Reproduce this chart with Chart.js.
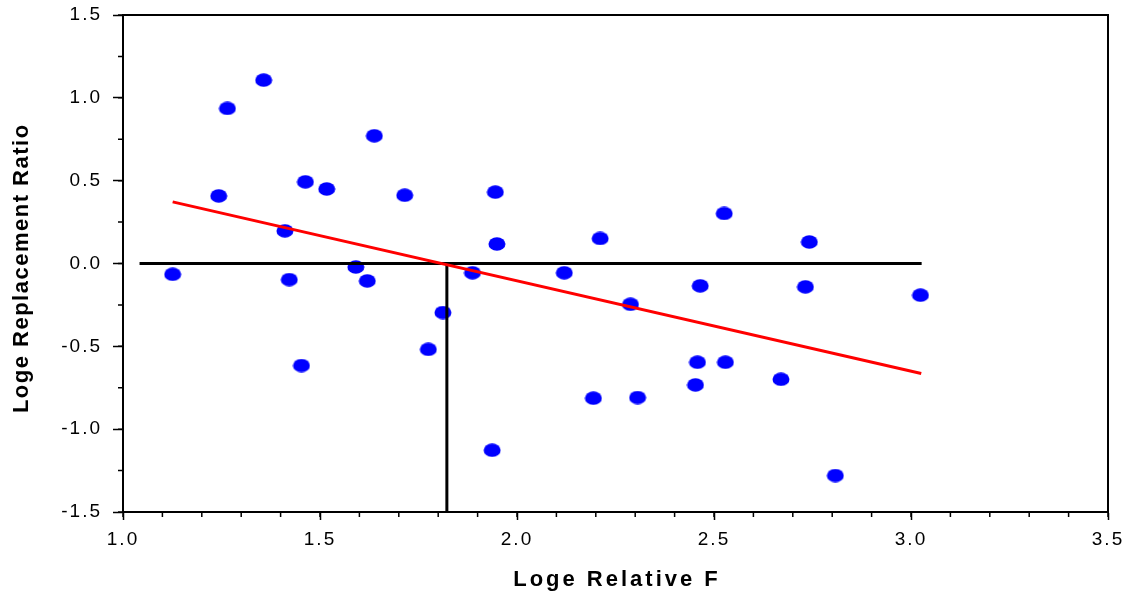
<!DOCTYPE html>
<html>
<head>
<meta charset="utf-8">
<script src="https://cdn.jsdelivr.net/npm/chart.js@4.4.1/dist/chart.umd.min.js"></script>
<style>
  html, body { margin: 0; padding: 0; background: #fff; }
  #wrap { width: 1131px; height: 599px; }
</style>
</head>
<body>
<div id="wrap"><canvas id="chart" width="1131" height="599"></canvas></div>
<script>
// observed points
const relF = [1.126, 1.243, 1.265, 1.357, 1.411, 1.422, 1.453, 1.463, 1.517, 1.591, 1.620, 1.638,
  1.715, 1.775, 1.812, 1.887, 1.937, 1.945, 1.949, 2.120, 2.194, 2.211, 2.288, 2.306,
  2.453, 2.458, 2.465, 2.526, 2.529, 2.670, 2.732, 2.742, 2.808, 3.024];
const replRatio = [-0.065, 0.408, 0.936, 1.107, 0.197, -0.097, -0.616, 0.493, 0.450, -0.021, -0.105, 0.771,
  0.412, -0.518, -0.296, -0.056, -1.127, 0.431, 0.118, -0.056, -0.813, 0.151, -0.246, -0.809,
  -0.733, -0.596, -0.135, 0.302, -0.596, -0.699, -0.141, 0.130, -1.280, -0.191];

// fitted regression line
const fitX = [1.126, 3.026];
const fitY = [0.372, -0.664];

// zero reference line and drop line at the intercept
const zeroX = [1.042, 3.027];
const zeroY = [0, 0];
const dropX = [1.822, 1.822];
const dropY = [0, -1.5];

// axis ticks
const xTicks = [1.0, 1.5, 2.0, 2.5, 3.0, 3.5];
const yTicks = [-1.5, -1.0, -0.5, 0.0, 0.5, 1.0, 1.5];
const xMinorStep = 0.1;
const yMinorStep = 0.25;

const FONT = '"Liberation Sans", Arial, sans-serif';

const pts = (xs, ys) => xs.map((x, i) => ({ x, y: ys[i] }));

// ellipse marker
const dot = document.createElement('canvas');
dot.width = 18; dot.height = 14;
const dctx = dot.getContext('2d');
dctx.fillStyle = '#0000ff';
dctx.beginPath();
dctx.ellipse(9, 7, 8.5, 6.8, 0, 0, Math.PI * 2);
dctx.fill();

const frame = {
  id: 'frame',
  beforeDraw(chart) {
    chart.ctx.letterSpacing = '2px';
  },
  afterDraw(chart) {
    const { ctx, chartArea: a, scales: { x, y } } = chart;
    ctx.save();
    ctx.letterSpacing = '0px';
    ctx.strokeStyle = '#000';
    ctx.lineWidth = 2;
    ctx.beginPath();
    ctx.moveTo(a.left, a.top); ctx.lineTo(a.right, a.top); ctx.lineTo(a.right, a.bottom);
    ctx.stroke();

    // minor ticks
    ctx.lineWidth = 1.5;
    ctx.beginPath();
    for (let v = x.min; v <= x.max + 1e-9; v += xMinorStep) {
      const px = x.getPixelForValue(v);
      ctx.moveTo(px, a.bottom); ctx.lineTo(px, a.bottom + 5);
    }
    for (let v = y.min; v <= y.max + 1e-9; v += yMinorStep) {
      const py = y.getPixelForValue(v);
      ctx.moveTo(a.left, py); ctx.lineTo(a.left - 5, py);
    }
    ctx.stroke();

    // axis titles
    ctx.fillStyle = '#000';
    ctx.font = 'bold 22px ' + FONT;
    ctx.textAlign = 'center';
    ctx.textBaseline = 'middle';
    ctx.letterSpacing = '3px';
    ctx.fillText('Loge Relative F', (a.left + a.right) / 2 + 1.5, 580);
    ctx.letterSpacing = '1.5px';
    ctx.translate(22, 269);
    ctx.rotate(-Math.PI / 2);
    ctx.fillText('Loge Replacement Ratio', 0.75, 0);
    ctx.restore();
  }
};

new Chart(document.getElementById('chart'), {
  type: 'scatter',
  data: {
    datasets: [
      {
        label: 'fit',
        data: pts(fitX, fitY),
        showLine: true,
        borderColor: '#ff0000',
        borderWidth: 3,
        pointRadius: 0,
        order: 0
      },
      {
        label: 'zero',
        data: pts(zeroX, zeroY),
        showLine: true,
        borderColor: '#000000',
        borderWidth: 3,
        pointRadius: 0,
        order: 1
      },
      {
        label: 'drop',
        data: pts(dropX, dropY),
        showLine: true,
        borderColor: '#000000',
        borderWidth: 3,
        pointRadius: 0,
        order: 1
      },
      {
        label: 'observed',
        data: pts(relF, replRatio),
        pointStyle: dot,
        pointRadius: 7,
        backgroundColor: '#0000ff',
        order: 2
      }
    ]
  },
  options: {
    responsive: false,
    animation: false,
    events: [],
    layout: { padding: { top: 15, right: 23, left: 0, bottom: 0 } },
    plugins: { legend: { display: false }, tooltip: { enabled: false } },
    scales: {
      x: {
        type: 'linear',
        min: xTicks[0],
        max: xTicks[xTicks.length - 1],
        afterFit: s => { s.height = 87; s.paddingLeft = 0; s.paddingRight = 0; },
        afterBuildTicks: s => { s.ticks = xTicks.map(v => ({ value: v })); },
        ticks: {
          color: '#000',
          font: { family: FONT, size: 19 },
          padding: 8,
          callback: v => v.toFixed(1)
        },
        grid: { drawOnChartArea: false, tickLength: 8, color: '#000', tickWidth: 1.5 },
        border: { color: '#000', width: 2 }
      },
      y: {
        type: 'linear',
        min: yTicks[0],
        max: yTicks[yTicks.length - 1],
        afterFit: s => { s.width = 123; s.paddingTop = 0; s.paddingBottom = 0; },
        afterBuildTicks: s => { s.ticks = yTicks.map(v => ({ value: v })); },
        ticks: {
          color: '#000',
          font: { family: FONT, size: 19 },
          padding: 11,
          callback: v => v.toFixed(1)
        },
        grid: { drawOnChartArea: false, tickLength: 10, color: '#000', tickWidth: 1.5 },
        border: { color: '#000', width: 2 }
      }
    }
  },
  plugins: [frame]
});
</script>
</body>
</html>
